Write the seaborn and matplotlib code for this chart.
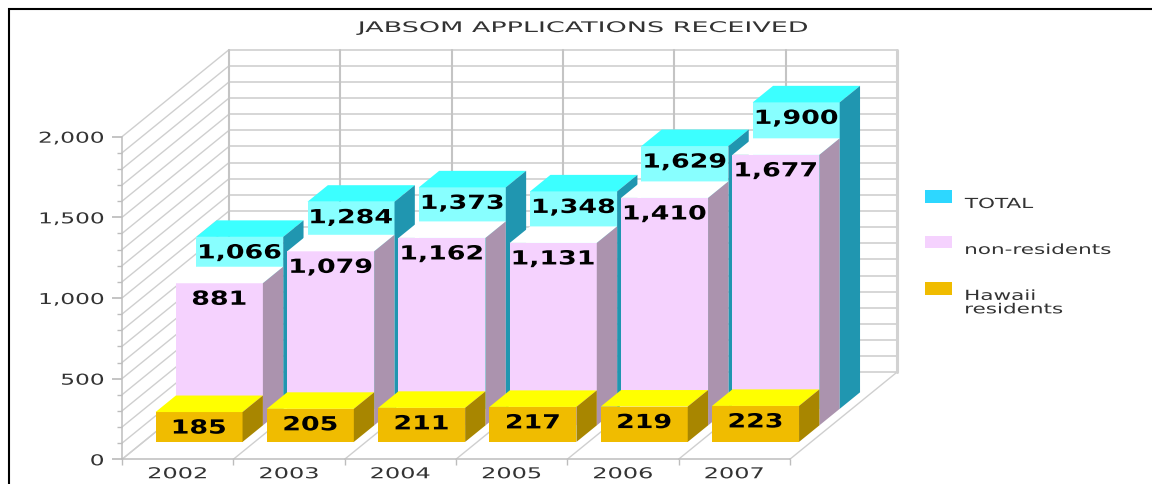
import matplotlib
matplotlib.use("Agg")
import matplotlib.pyplot as plt
import seaborn as sns
from matplotlib.patches import Patch, Polygon, Rectangle
from matplotlib.legend_handler import HandlerPatch
from matplotlib.lines import Line2D
from matplotlib.patheffects import AbstractPathEffect
from matplotlib.transforms import Affine2D

years = ["2002", "2003", "2004", "2005", "2006", "2007"]
total = [1066, 1284, 1373, 1348, 1629, 1900]
non_residents = [881, 1079, 1162, 1131, 1410, 1677]
hawaii = [185, 205, 211, 217, 219, 223]
series_names = ["TOTAL", "non-residents", "Hawaii\nresidents"]
title = "JABSOM APPLICATIONS RECEIVED"

sns.set_theme(style="white")
plt.rcParams["font.family"] = ["DejaVu Sans"]


class Stretch(AbstractPathEffect):
    """Widen a real text artist horizontally about a fraction of its width."""

    def __init__(self, sx, anchor=0.5):
        super().__init__()
        self.sx, self.anchor = sx, anchor

    def draw_path(self, renderer, gc, tpath, affine, rgbFace=None):
        e = tpath.get_extents()
        a = e.x0 + self.anchor * e.width
        m = Affine2D().translate(-a, 0).scale(self.sx, 1).translate(a, 0)
        renderer.draw_path(gc, tpath, m + affine, rgbFace)


W, H = 1152, 484
fig = plt.figure(figsize=(W / 100, H / 100), dpi=100, facecolor="white")
ax = fig.add_axes([0, 0, 1, 1])

# scale of the front plane
PX_CAT = 111.3
PX_VAL = 322.6 / 2000
X0_PX, Y0_PX = 122.0, 459.3
xmin = -0.5 - X0_PX / PX_CAT
ymin = -(H - Y0_PX) / PX_VAL
# full depth of the box
DEPTH_X = 107 / PX_CAT
DEPTH_Y = 87 / PX_VAL
BAR_W = 87 / PX_CAT


def proj(x, v, d):
    return x + d * DEPTH_X, v + d * DEPTH_Y


GRID = "#cfcfcf"
AXC = "#bdbdbd"
# walls and floor
for v in range(0, 2001, 100):
    ax.plot(*zip(proj(-0.5, v, 0), proj(-0.5, v, 1)), color=GRID, lw=1.0, zorder=1)
    ax.plot(*zip(proj(-0.5, v, 1), proj(5.5, v, 1)), color=GRID, lw=1.2, zorder=1)
for b in range(7):
    ax.plot(*zip(proj(b - 0.5, 0, 0), proj(b - 0.5, 0, 1)), color=GRID, lw=1.0, zorder=1)
    ax.plot(*zip(proj(b - 0.5, 0, 1), proj(b - 0.5, 2000, 1)),
            color="#c4c4c4" if b < 6 else "#d2d2d2", lw=1.5 if b < 6 else 2.2, zorder=1)

rows = [
    (total, 0.58, "#88ffff", "#3cffff", "#2096b0", 3),
    (non_residents, 0.39, "#f5d2fe", "#ffffff", "#ab93ae", 4),
    (hawaii, 0.20, "#f0bc00", "#ffff00", "#a88600", 5),
]
DEP = 0.19
for vals, d, front, top, side, z in rows:
    n0 = len(ax.patches)
    sns.barplot(x=years, y=vals, order=years, color=front, saturation=1, width=BAR_W,
                ax=ax, zorder=z, linewidth=0)
    for i, p in enumerate(list(ax.patches[n0:n0 + len(vals)])):
        dx, dy = proj(0, 0, d)
        p.set_x(p.get_x() + dx)
        p.set_y(p.get_y() + dy)
        v = vals[i]
        l, r = i - BAR_W / 2, i + BAR_W / 2
        ax.add_patch(Polygon([proj(l, v, d), proj(r, v, d), proj(r, v, d + DEP), proj(l, v, d + DEP)],
                             closed=True, fc=top, ec="none", zorder=z))
        ax.add_patch(Polygon([proj(r, 0, d), proj(r, v, d), proj(r, v, d + DEP), proj(r, 0, d + DEP)],
                             closed=True, fc=side, ec="none", zorder=z))
        lx, ly = proj(i, v - 16 / PX_VAL, d)
        ax.text(lx, ly, f"{v:,}", ha="center", va="center", fontsize=14,
                fontweight="bold", color="black", zorder=10,
                path_effects=[Stretch(1.38, 0.5)])

ax.set_xlim(xmin, xmin + W / PX_CAT)
ax.set_ylim(ymin, ymin + H / PX_VAL)
ax.set_xlabel("")
ax.set_ylabel("")
ax.patch.set_alpha(0)

# real axes on the front plane
for s in ("top", "right"):
    ax.spines[s].set_visible(False)
ax.spines["left"].set_position(("data", -0.5))
ax.spines["left"].set_bounds(0, 2000)
ax.spines["bottom"].set_position(("data", 0))
ax.spines["bottom"].set_bounds(-0.5, 5.5)
for s in ("left", "bottom"):
    ax.spines[s].set_color(AXC)
    ax.spines[s].set_linewidth(1.1)
ax.set_yticks(range(0, 2001, 500))
ax.set_yticklabels([f"{v:,}" for v in range(0, 2001, 500)])
ax.set_yticks(range(0, 2001, 100), minor=True)
ax.set_xticks(range(6))
ax.set_xticklabels(years)
ax.set_xticks([b - 0.5 for b in range(7)], minor=True)
ax.tick_params(axis="y", which="major", length=7, color=AXC, labelsize=10.8, labelcolor="#333333", pad=6, left=True)
ax.tick_params(axis="y", which="minor", length=3.5, color=AXC, left=True)
ax.tick_params(axis="x", which="major", length=0, labelsize=10.8, labelcolor="#333333", pad=5, bottom=True)
ax.tick_params(axis="x", which="minor", length=4, color=AXC, bottom=True)
for t in ax.get_yticklabels():
    t.set_path_effects([Stretch(1.55, 1.0)])
for t in ax.get_xticklabels():
    t.set_path_effects([Stretch(1.6, 0.5)])

fig.text(582.5 / W, 1 - 27.5 / H, title, ha="center", va="center", fontsize=10.5, color="#333333",
         path_effects=[Stretch(1.85, 0.5)])


def handle(legend, orig_handle, xdescent, ydescent, width, height, fontsize):
    up = 10.8 if "\n" in orig_handle.get_label() else 5.0
    return Rectangle((-xdescent, -ydescent + up), width, height)


legend_handles = [Patch(fc=c, ec="none", label=n) for c, n in
                  zip(["#2dd7ff", "#f5d2fe", "#f0bc00"], series_names)]
leg = ax.legend(handles=legend_handles, frameon=False, fontsize=10,
                handlelength=1.94, handleheight=1.0, handletextpad=0.93,
                labelspacing=2.3, loc="upper left",
                bbox_to_anchor=(925 / W, 1 - 197 / H), borderaxespad=0, borderpad=0,
                handler_map={Patch: HandlerPatch(patch_func=handle)})
for t in leg.get_texts():
    t.set_color("#333333")
    t.set_linespacing(0.95)
    t.set_path_effects([Stretch(1.55, 0.0)])

# outer frame: top and left edges only
for xs, ys in [((8.5, 8.5), (8, 484)), ((7.5, 1152), (9, 9))]:
    fig.add_artist(Line2D([x / W for x in xs], [1 - y / H for y in ys], color="black", lw=1.5,
                          solid_capstyle="butt"))

fig.savefig("out.png", dpi=100, facecolor="white")
